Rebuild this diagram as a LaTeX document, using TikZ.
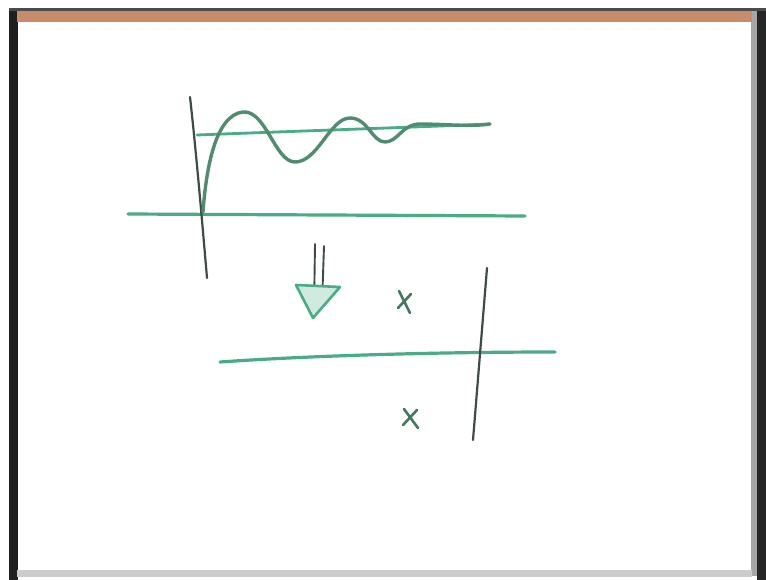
\documentclass[tikz,border=0pt]{standalone}
\begin{document}
\begin{tikzpicture}[x=1pt,y=-1pt,line cap=round,line join=round]
\definecolor{marker}{RGB}{72,172,132}
\definecolor{pencil}{RGB}{65,75,70}
\definecolor{curve}{RGB}{80,140,112}
\definecolor{frame}{RGB}{200,140,105}
\tikzset{greenline/.style={draw=marker,line width=3.2pt},
         darkline/.style={draw=pencil,line width=2.2pt},
         cross/.style={draw=curve!85!black,line width=2.6pt}}
\useasboundingbox (0,0) rectangle (766,580);
% board
\fill[white] (0,0) rectangle (766,580);
\fill[black!88] (9,8) rectangle (18,580);
\fill[black!85] (757,8) rectangle (766,580);
\fill[black!35] (751,10) rectangle (757,576);
\fill[black!70] (9,8) rectangle (766,11);
\fill[frame] (17,11) rectangle (752,22);
\fill[black!20] (17,570) rectangle (752,577);
% top diagram
\draw[greenline] (128,214) -- (525,216);
\draw[greenline,line width=2.8pt] (197,135) .. controls (300,131) and (420,127) .. (490,124);
\draw[darkline] (190,97) .. controls (196,150) and (202,220) .. (207,278);
\draw[curve,line width=3.4pt] (203,212) .. controls (206,170) and (215,115) .. (243,112)
  .. controls (266,110) and (275,162) .. (295,162)
  .. controls (318,162) and (330,118) .. (350,118)
  .. controls (368,118) and (372,142) .. (385,142)
  .. controls (398,142) and (402,124) .. (420,124)
  .. controls (445,124) and (470,127) .. (490,124);
% arrow
\draw[darkline,line width=1.9pt] (315,244) -- (314,312);
\draw[darkline,line width=1.9pt] (324,246) -- (322,305);
\draw[marker,line width=2.6pt,fill=marker!25] (296,285) -- (340,287) -- (313,318) -- cycle;
% lower diagram
\draw[greenline] (220,362) .. controls (320,355) and (450,352) .. (555,352);
\draw[darkline] (487,268) -- (473,440);
\draw[cross] (399,291) -- (410,313);
\draw[cross] (411,294) -- (398,308);
\draw[cross] (404,409) -- (418,428);
\draw[cross] (417,410) -- (403,425);
\end{tikzpicture}
\end{document}
